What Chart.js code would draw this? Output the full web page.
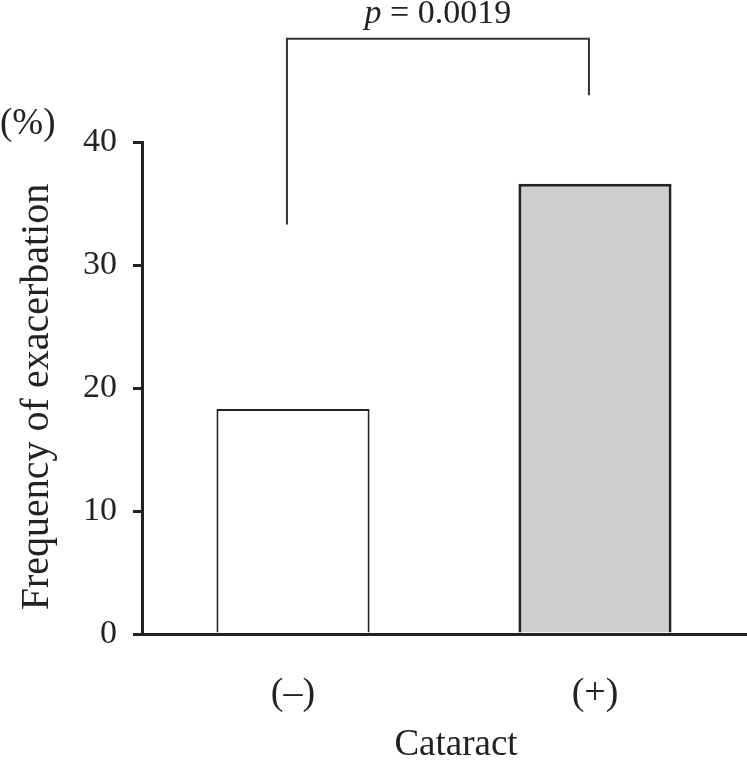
<!DOCTYPE html>
<html>
<head>
<meta charset="utf-8">
<script src="https://cdn.jsdelivr.net/npm/chart.js@4/dist/chart.umd.min.js"></script>
<style>
html,body{margin:0;padding:0;background:#fff;}
#wrap{width:747px;height:760px;position:relative;}
</style>
</head>
<body>
<div id="wrap"><canvas id="c" width="747" height="760"></canvas></div>
<script>
const categories = ['(\u2013)', '(+)'];
const frequency = [18.3, 36.6];
const barColors = ['#ffffff', '#cdced0'];
const barBorderWidths = [2, 3];
const yTicks = [0, 10, 20, 30, 40];
const bracketX = [-0.02, 0.98];          // category positions of bracket legs
const bracketLegBottoms = [33.3, 43.8];  // y values where legs end
const bracketTop = 48.4;                 // y value of the horizontal bar
const pLabel = '0.0019';
const xTitle = 'Cataract';
const yTitle = 'Frequency of exacerbation';
const unitLabel = '(%)';

const SERIF = '"Liberation Serif", "Times New Roman", serif';

const annotationPlugin = {
  id: 'annot',
  afterDraw(chart) {
    const {ctx, chartArea, scales: {x, y}} = chart;
    const xl = x.getPixelForValue(bracketX[0]);
    const xr = x.getPixelForValue(bracketX[1]);
    const yl = y.getPixelForValue(bracketLegBottoms[0]);
    const yr = y.getPixelForValue(bracketLegBottoms[1]);
    const yt = y.getPixelForValue(bracketTop);
    ctx.save();
    ctx.strokeStyle = '#333';
    ctx.lineWidth = 2;
    ctx.beginPath();
    ctx.moveTo(xl, yl);
    ctx.lineTo(xl, yt);
    ctx.lineTo(xr, yt);
    ctx.lineTo(xr, yr);
    ctx.stroke();
    // p label
    ctx.fillStyle = '#222';
    ctx.textBaseline = 'alphabetic';
    const fItal = 'italic 34px ' + SERIF;
    const fNorm = '34px ' + SERIF;
    ctx.font = fItal;
    const wP = ctx.measureText('p').width;
    ctx.font = fNorm;
    const rest = ' = ' + pLabel;
    const wR = ctx.measureText(rest).width;
    const cx = (xl + xr) / 2;
    const start = cx - (wP + wR) / 2;
    const base = yt - 16;
    ctx.font = fItal;
    ctx.textAlign = 'left';
    ctx.fillText('p', start, base);
    ctx.font = fNorm;
    ctx.fillText(rest, start + wP, base);
    // (%) unit label
    ctx.font = '37px ' + SERIF;
    ctx.textAlign = 'left';
    ctx.fillText(unitLabel, 0, y.getPixelForValue(40) - 8);
    // x axis title
    ctx.font = '37px ' + SERIF;
    ctx.textAlign = 'center';
    ctx.textBaseline = 'middle';
    ctx.fillText(xTitle, (chartArea.left + chartArea.right) / 2 + 12, chart.height - 15);
    // y axis title
    ctx.font = '40px ' + SERIF;
    ctx.translate(37, (chartArea.top + chartArea.bottom) / 2 + 9);
    ctx.rotate(-Math.PI / 2);
    ctx.fillText(yTitle, 0, 0);
    ctx.restore();
  }
};

new Chart(document.getElementById('c'), {
  type: 'bar',
  data: {
    labels: categories,
    datasets: [{
      data: frequency,
      backgroundColor: barColors,
      borderColor: '#222',
      borderWidth: barBorderWidths,
      borderSkipped: 'bottom',
      barPercentage: 0.507,
      categoryPercentage: 1.0
    }]
  },
  options: {
    responsive: false,
    animation: false,
    devicePixelRatio: 1,
    layout: { padding: { top: 142, right: 1, left: 0, bottom: 0 } },
    plugins: { legend: { display: false }, tooltip: { enabled: false } },
    scales: {
      x: {
        grid: { display: false, drawTicks: false },
        border: { display: true, color: '#222', width: 3 },
        ticks: { color: '#222', font: { family: SERIF, size: 38 }, padding: 37 },
        afterFit(scale) { scale.height = 126; }
      },
      y: {
        min: 0, max: 40,
        afterBuildTicks(scale) { scale.ticks = yTicks.map(v => ({ value: v })); },
        grid: { drawOnChartArea: false, drawTicks: true, tickLength: 9, color: '#222', lineWidth: 3 },
        border: { display: true, color: '#222', width: 3 },
        ticks: { color: '#222', font: { family: SERIF, size: 34 }, padding: 16 },
        afterFit(scale) { scale.width = 142; }
      }
    }
  },
  plugins: [annotationPlugin]
});
</script>
</body>
</html>
